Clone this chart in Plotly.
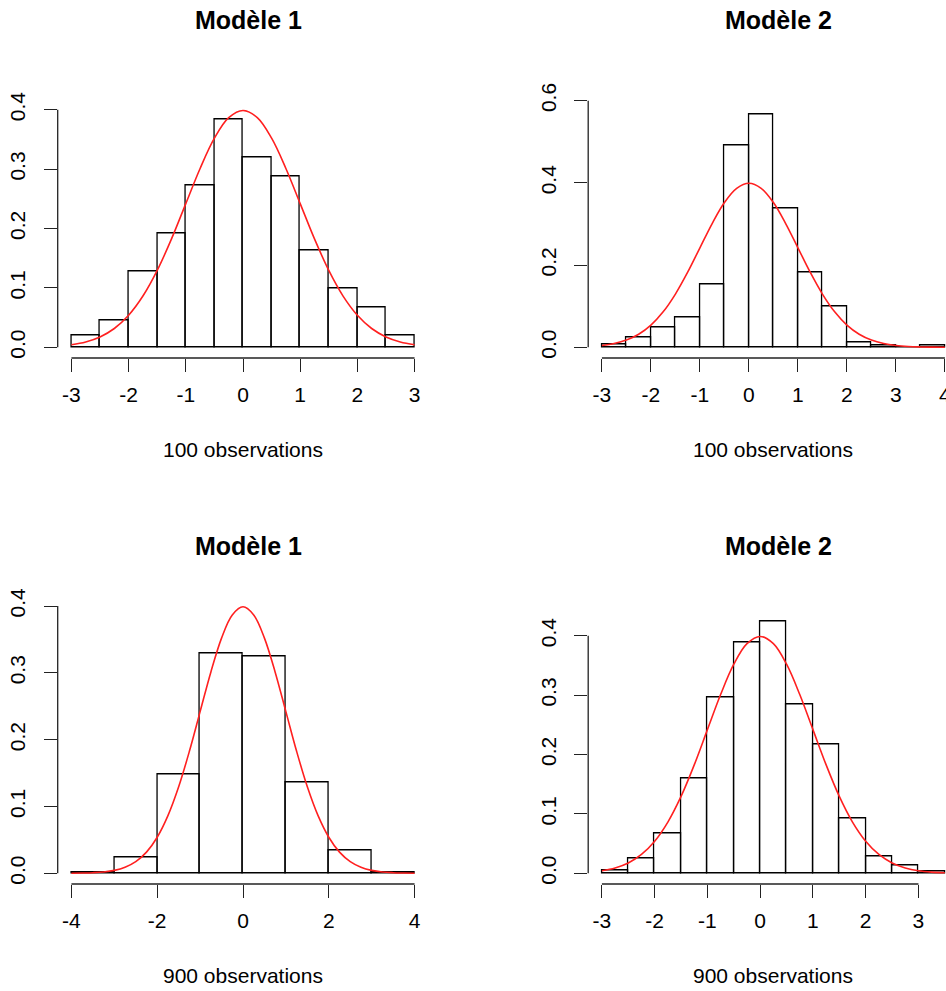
import plotly.graph_objects as go

# ---------------- data ----------------
titles = ["Modèle 1", "Modèle 2", "Modèle 1", "Modèle 2"]
xlabels = ["100 observations", "100 observations", "900 observations", "900 observations"]

breaks1 = [-3, -2.5, -2, -1.5, -1, -0.5, 0, 0.5, 1, 1.5, 2, 2.5, 3]
dens1 = [0.020, 0.045, 0.128, 0.192, 0.272, 0.384, 0.320, 0.288, 0.163, 0.100, 0.067, 0.020]

breaks2 = [-3, -2.5, -2, -1.5, -1, -0.5, 0, 0.5, 1, 1.5, 2, 2.5, 3, 3.5, 4]
dens2 = [0.008, 0.024, 0.049, 0.073, 0.152, 0.491, 0.566, 0.337, 0.183, 0.100, 0.012, 0.004, 0.001, 0.004]

breaks3 = [-4, -3, -2, -1, 0, 1, 2, 3, 4]
dens3 = [0.002, 0.024, 0.148, 0.329, 0.324, 0.136, 0.034, 0.001]

breaks4 = [-3, -2.5, -2, -1.5, -1, -0.5, 0, 0.5, 1, 1.5, 2, 2.5, 3, 3.5]
dens4 = [0.0045, 0.025, 0.068, 0.160, 0.296, 0.389, 0.424, 0.284, 0.217, 0.092, 0.029, 0.013, 0.003]

# red reference curve (standard normal density), values read along x
curve_x = [-4, -3.75, -3.5, -3.25, -3, -2.75, -2.5, -2.25, -2, -1.75, -1.5, -1.25, -1, -0.75, -0.5, -0.25,
           0, 0.25, 0.5, 0.75, 1, 1.25, 1.5, 1.75, 2, 2.25, 2.5, 2.75, 3, 3.25, 3.5, 3.75, 4]
curve_y = [0.0001, 0.0004, 0.0009, 0.0020, 0.0044, 0.0091, 0.0175, 0.0317, 0.0540, 0.0863, 0.1295, 0.1826,
           0.2420, 0.3011, 0.3521, 0.3867, 0.3989, 0.3867, 0.3521, 0.3011, 0.2420, 0.1826, 0.1295, 0.0863,
           0.0540, 0.0317, 0.0175, 0.0091, 0.0044, 0.0020, 0.0009, 0.0004, 0.0001]

xticks = [[-3, -2, -1, 0, 1, 2, 3], [-3, -2, -1, 0, 1, 2, 3, 4], [-4, -2, 0, 2, 4], [-3, -2, -1, 0, 1, 2, 3]]
yticks = [[0, 0.1, 0.2, 0.3, 0.4], [0, 0.2, 0.4, 0.6], [0, 0.1, 0.2, 0.3, 0.4], [0, 0.1, 0.2, 0.3, 0.4]]
ylims = [0.45, 0.65, 0.40, 0.45]

all_breaks = [breaks1, breaks2, breaks3, breaks4]
all_dens = [dens1, dens2, dens3, dens4]

# ---------------- layout geometry ----------------
W, H = 946, 991
FONT = "Liberation Sans, Arial, Helvetica, sans-serif"
left_dom = [57.7 / W, 428.3 / W]
right_dom = [588.2 / W, 1.0]
top_dom = [(H - 358.0) / H, (H - 69.4) / H]
bot_dom = [(H - 884.0) / H, (H - 595.4) / H]
xdoms = [left_dom, right_dom, left_dom, right_dom]
ydoms = [top_dom, top_dom, bot_dom, bot_dom]
xranges = [[-3.24, 3.24], [-3.28, 4.022], [-4.32, 4.32], [-3.26, 3.522]]

fig = go.Figure()
annotations = []
AXC = "#222"
axis_x, axis_y = [], []   # R-style axis lines, in page (paper) coordinates

for i in range(4):
    n = "" if i == 0 else str(i + 1)
    xa, ya = "x" + n, "y" + n
    b = all_breaks[i]
    d = all_dens[i]
    centers = [(b[k] + b[k + 1]) / 2 for k in range(len(d))]
    widths = [b[k + 1] - b[k] for k in range(len(d))]
    fig.add_trace(go.Bar(
        x=centers, y=d, width=widths, xaxis=xa, yaxis=ya,
        marker=dict(color="rgba(255,255,255,0)", line=dict(color="black", width=1.3)),
        showlegend=False, hoverinfo="skip"))
    cx = [x for x in curve_x if b[0] <= x <= b[-1]]
    cy = [curve_y[curve_x.index(x)] for x in cx]
    fig.add_trace(go.Scatter(
        x=cx, y=cy, xaxis=xa, yaxis=ya, mode="lines",
        line=dict(color="#ff2020", width=1.6, shape="spline", smoothing=1.0),
        showlegend=False, hoverinfo="skip"))

    R = ylims[i]
    yr = [-0.04 * R, 1.04 * R]
    xr = xranges[i]
    common = dict(showgrid=False, zeroline=False, showline=False, ticks="outside",
                  ticklen=13, tickwidth=1.3, tickcolor=AXC,
                  tickfont=dict(family=FONT, size=21, color="black"))
    fig.layout["xaxis" + n] = dict(domain=xdoms[i], range=xr, anchor=ya,
                                   tickvals=xticks[i], ticktext=[str(v) for v in xticks[i]],
                                   ticklabelstandoff=5, ticklabeloverflow="allow", **common)
    fig.layout["yaxis" + n] = dict(domain=ydoms[i], range=yr, anchor=xa,
                                   tickvals=yticks[i], ticktext=["%.1f" % v for v in yticks[i]],
                                   tickangle=-90, ticklabelstandoff=10, **common)
    xd, yd = xdoms[i], ydoms[i]
    def px(v):
        return xd[0] + (v - xr[0]) / (xr[1] - xr[0]) * (xd[1] - xd[0])
    def py(v):
        return yd[0] + (v - yr[0]) / (yr[1] - yr[0]) * (yd[1] - yd[0])
    axis_x += [px(xticks[i][0]), px(xticks[i][-1]), None, xd[0], xd[0], None]
    axis_y += [yd[0], yd[0], None, py(yticks[i][0]), py(yticks[i][-1]), None]

    xc = (xdoms[i][0] * W + (428.3 if i % 2 == 0 else 958.6)) / 2 / W
    top_px = 20 if i < 2 else 20 + 526
    lab_px = 449.5 if i < 2 else 449.5 + 526
    annotations.append(dict(text="<b>" + titles[i] + "</b>", xref="paper", yref="paper",
                            x=xc, y=(H - top_px) / H, xanchor="center", yanchor="middle",
                            xshift=5, showarrow=False,
                            font=dict(family=FONT, size=25, color="black")))
    annotations.append(dict(text=xlabels[i], xref="paper", yref="paper",
                            x=xc, y=(H - lab_px) / H, xanchor="center", yanchor="middle",
                            showarrow=False,
                            font=dict(family=FONT, size=21, color="black")))

# overlay axis covering the whole page, used only for the R-style axis lines
fig.add_trace(go.Scatter(x=axis_x, y=axis_y, xaxis="x5", yaxis="y5", mode="lines",
                         line=dict(color=AXC, width=1.3), showlegend=False, hoverinfo="skip"))
fig.layout["xaxis5"] = dict(domain=[0, 1], range=[0, 1], visible=False, anchor="y5", fixedrange=True)
fig.layout["yaxis5"] = dict(domain=[0, 1], range=[0, 1], visible=False, anchor="x5", fixedrange=True)

fig.update_layout(width=W, height=H, margin=dict(l=0, r=0, t=0, b=0, autoexpand=False),
                  paper_bgcolor="white", plot_bgcolor="rgba(0,0,0,0)",
                  annotations=annotations, bargap=0, font=dict(family=FONT))

fig.write_html("out.html", config={"displayModeBar": False},
               post_script="document.body.style.margin='0';document.body.style.overflow='hidden';")
